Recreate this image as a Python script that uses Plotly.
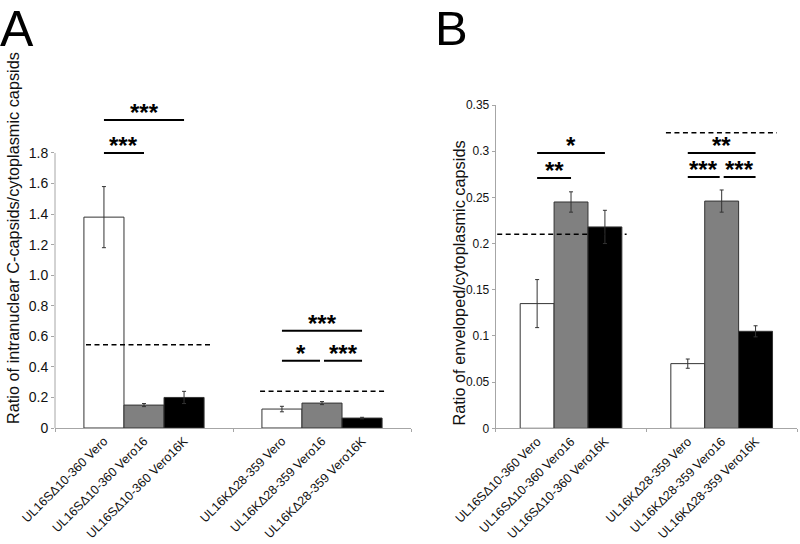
import plotly.graph_objects as go

# ---------------- data ----------------
group_pos = [0, 1]                      # two virus constructs along x
series_names = ["Vero", "Vero16", "Vero16K"]
series_colors = ["#ffffff", "#808080", "#000000"]

tick_labels = [
    "UL16SΔ10-360 Vero", "UL16SΔ10-360 Vero16", "UL16SΔ10-360 Vero16K",
    "UL16KΔ28-359 Vero", "UL16KΔ28-359 Vero16", "UL16KΔ28-359 Vero16K",
]

# Panel A: ratio of intranuclear C-capsids / cytoplasmic capsids
a_vero = [1.38, 0.124]
a_vero_err = [0.20, 0.018]
a_vero16 = [0.15, 0.163]
a_vero16_err = [0.01, 0.01]
a_vero16k = [0.20, 0.065]
a_vero16k_err = [0.04, 0.005]
a_dashed = [0.545, 0.24]
a_yticks = [0, 0.2, 0.4, 0.6, 0.8, 1.0, 1.2, 1.4, 1.6, 1.8]
a_yticktext = ["0", "0.2", "0.4", "0.6", "0.8", "1.0", "1.2", "1.4", "1.6", "1.8"]
# significance: (group, from series, to series, level, label)
a_sig = [(0, 0, 1, 1.80, "***"), (0, 0, 2, 2.016, "***"),
         (1, 0, 2, 0.637, "***"), (1, 0, 1, 0.44, "*"), (1, 1, 2, 0.44, "***")]

# Panel B: ratio of enveloped / cytoplasmic capsids
b_vero = [0.135, 0.070]
b_vero_err = [0.026, 0.005]
b_vero16 = [0.245, 0.246]
b_vero16_err = [0.011, 0.012]
b_vero16k = [0.218, 0.105]
b_vero16k_err = [0.018, 0.006]
b_dashed = [0.21, 0.32]
b_yticks = [0, 0.05, 0.1, 0.15, 0.2, 0.25, 0.3, 0.35]
b_yticktext = ["0", "0.05", "0.1", "0.15", "0.2", "0.25", "0.3", "0.35"]
b_sig = [(0, 0, 1, 0.271, "**"), (0, 0, 2, 0.298, "*"),
         (1, 0, 2, 0.298, "**"), (1, 0, 1, 0.272, "***"), (1, 1, 2, 0.272, "***")]

# ---------------- layout helpers ----------------
W, H = 800, 544
FONT = "Liberation Sans, Arial, sans-serif"
AXIS_GREY = "#a6a6a6"
BARGAP = 0.325
bw = (1 - BARGAP) / 3  # bar width in axis units


def px_x(p):
    return p / W


def px_y(p):
    return 1 - p / H


a_xdom = [px_x(55), px_x(411)]
a_ydom = [px_y(428), px_y(428 - 2.1 * 152.8)]
b_xdom = [px_x(495.7), px_x(797)]
b_ydom = [px_y(428.3), px_y(105)]

fig = go.Figure()

panels = [
    ("x", "y", [a_vero, a_vero16, a_vero16k], [a_vero_err, a_vero16_err, a_vero16k_err]),
    ("x2", "y2", [b_vero, b_vero16, b_vero16k], [b_vero_err, b_vero16_err, b_vero16k_err]),
]
for xa, ya, vals, errs in panels:
    for name, color, v, e in zip(series_names, series_colors, vals, errs):
        fig.add_trace(go.Bar(
            x=group_pos, y=v, name=name, xaxis=xa, yaxis=ya,
            marker=dict(color=color, line=dict(color="#333333", width=1)),
            error_y=dict(type="data", array=e, color="#333333", thickness=1, width=2),
            showlegend=False,
        ))

bar_centers = [g + (k - 1) * bw for g in group_pos for k in range(3)]

shapes = []
annotations = []

# dashed reference lines (x extents per group in axis units)
a_dash_x = [(-0.5 + 31 / 178, 0.39), (0.652, 1.365)]
b_dash_x = [(-0.49, 0.369), (0.63, 1.367)]
for (xa, ya, dvals, dx) in [("x", "y", a_dashed, a_dash_x), ("x2", "y2", b_dashed, b_dash_x)]:
    for val, (x0, x1) in zip(dvals, dx):
        shapes.append(dict(type="line", xref=xa, yref=ya, x0=x0, x1=x1, y0=val, y1=val,
                           line=dict(color="#000000", width=1.5, dash="5px,3.5px")))

# significance bars
for (xa, ya, sigs, unit_px) in [("x", "y", a_sig, 178.0), ("x2", "y2", b_sig, 150.7)]:
    for g, s0, s1, lvl, lab in sigs:
        x0 = group_pos[g] + (s0 - 1) * bw
        x1 = group_pos[g] + (s1 - 1) * bw
        shrink = 2 / unit_px
        same_level = [t for t in sigs if t[0] == g and t[3] == lvl]
        if len(same_level) > 1:
            if s0 == 1:
                x0 += shrink
            if s1 == 1:
                x1 -= shrink
        shapes.append(dict(type="line", xref=xa, yref=ya, x0=x0, x1=x1, y0=lvl, y1=lvl,
                           line=dict(color="#000000", width=2)))
        annotations.append(dict(xref=xa, yref=ya, x=(x0 + x1) / 2, y=lvl,
                                text="<b>" + lab + "</b>",
                                showarrow=False, yanchor="bottom", yshift=-8,
                                font=dict(family=FONT, size=24, color="#000000")))

# panel A y-axis line only up to 1.8
shapes.append(dict(type="line", xref="paper", yref="y", x0=a_xdom[0], x1=a_xdom[0],
                   y0=0, y1=1.8, line=dict(color=AXIS_GREY, width=1)))

# panel letters
annotations.append(dict(xref="paper", yref="paper", x=px_x(-1), y=1, text="A",
                        showarrow=False, xanchor="left", yanchor="top", borderpad=0,
                        font=dict(family=FONT, size=50, color="#000000")))
annotations.append(dict(xref="paper", yref="paper", x=px_x(434), y=1, text="B",
                        showarrow=False, xanchor="left", yanchor="top", borderpad=0,
                        font=dict(family=FONT, size=49, color="#000000")))

# y axis titles
annotations.append(dict(xref="paper", yref="paper", x=px_x(13), y=px_y(238),
                        text="Ratio of intranuclear C-capsids/cytoplasmic capsids",
                        textangle=-90, showarrow=False, xanchor="center", yanchor="middle",
                        font=dict(family=FONT, size=16.3, color="#111111")))
annotations.append(dict(xref="paper", yref="paper", x=px_x(458), y=px_y(283.5),
                        text="Ratio of enveloped/cytoplasmic capsids",
                        textangle=-90, showarrow=False, xanchor="center", yanchor="middle",
                        font=dict(family=FONT, size=16.3, color="#111111")))

xaxis_common = dict(
    range=[-0.5, 1.5], showline=True, linecolor=AXIS_GREY, linewidth=1,
    showgrid=False, zeroline=False, ticks="", tickvals=bar_centers, ticktext=tick_labels,
    tickangle=-45, tickfont=dict(family=FONT, size=12.5, color="#111111"),
    minor=dict(tickvals=[-0.5, 0.5, 1.5], ticks="outside", ticklen=3, tickcolor=AXIS_GREY),
    automargin=False, fixedrange=True,
)

fig.update_layout(
    width=W, height=H,
    margin=dict(l=0, r=0, t=0, b=0),
    paper_bgcolor="white", plot_bgcolor="white",
    barmode="group", bargap=BARGAP, bargroupgap=0,
    font=dict(family=FONT),
    xaxis=dict(domain=a_xdom, anchor="y", **xaxis_common),
    xaxis2=dict(domain=b_xdom, anchor="y2", **xaxis_common),
    yaxis=dict(domain=a_ydom, anchor="x", range=[0, 2.1], showline=False, showgrid=False,
               zeroline=False, tickvals=a_yticks, ticktext=a_yticktext, ticks="outside",
               ticklen=3, tickcolor=AXIS_GREY,
               tickfont=dict(family=FONT, size=14, color="#111111"), automargin=False),
    yaxis2=dict(domain=b_ydom, anchor="x2", range=[0, 0.35], showline=True, linecolor=AXIS_GREY,
                showgrid=False, zeroline=False, tickvals=b_yticks, ticktext=b_yticktext,
                ticks="outside", ticklen=3, tickcolor=AXIS_GREY,
                tickfont=dict(family=FONT, size=12, color="#111111"), automargin=False),
    shapes=shapes,
    annotations=annotations,
)

fig.write_html("out.html", config={"displayModeBar": False},
               post_script="document.body.style.margin='0';document.body.style.overflow='hidden';")
